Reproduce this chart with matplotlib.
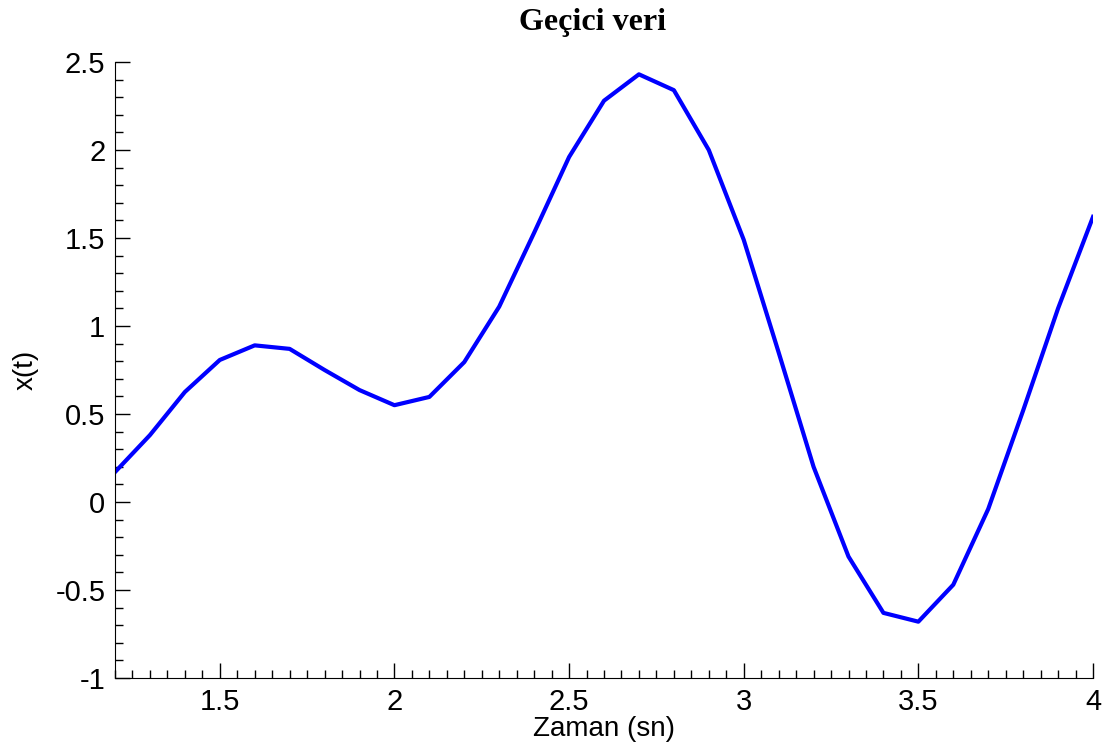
import numpy as np
import matplotlib.pyplot as plt
from matplotlib.ticker import MultipleLocator

# Time samples and response
zaman = [1.2, 1.3, 1.4, 1.5, 1.6, 1.7, 1.8, 1.9, 2.0, 2.1,
         2.2, 2.3, 2.4, 2.5, 2.6, 2.7, 2.8, 2.9, 3.0, 3.1,
         3.2, 3.3, 3.4, 3.5, 3.6, 3.7, 3.8, 3.9, 4.0]
xt = [0.17, 0.38, 0.625, 0.807, 0.89, 0.87, 0.75, 0.636, 0.55, 0.597,
      0.795, 1.11, 1.53, 1.96, 2.28, 2.43, 2.34, 2.0, 1.49, 0.85,
      0.2, -0.31, -0.63, -0.68, -0.47, -0.04, 0.52, 1.1, 1.62]

plt.rcParams['font.family'] = ['Liberation Sans', 'DejaVu Sans']

fig = plt.figure(figsize=(11.18, 7.45), dpi=100)
ax = fig.add_axes([115 / 1118, 1 - 678 / 745, (1093 - 115) / 1118, (678 - 62) / 745])

ax.plot(zaman, xt, color='#0000ff', linewidth=3)

ax.set_xlim(1.2, 4)
ax.set_ylim(-1, 2.5)
ax.xaxis.set_major_locator(MultipleLocator(0.5))
ax.xaxis.set_minor_locator(MultipleLocator(0.05))
ax.yaxis.set_major_locator(MultipleLocator(0.5))
ax.yaxis.set_minor_locator(MultipleLocator(0.1))
ax.xaxis.set_major_formatter(plt.FuncFormatter(lambda v, p: f'{v:g}'))
ax.yaxis.set_major_formatter(plt.FuncFormatter(lambda v, p: f'{v:g}'))

ax.spines['top'].set_visible(False)
ax.spines['right'].set_visible(False)
ax.tick_params(which='both', direction='in', labelsize=21, width=1)
ax.tick_params(which='major', length=11, pad=7)
ax.tick_params(which='minor', length=6)

ax.set_xlabel('Zaman (sn)', fontsize=20, labelpad=0)
ax.set_ylabel('x(t)', fontsize=20, labelpad=12)
ax.set_title('Geçici veri', fontsize=23, fontweight='bold',
             family=['Liberation Serif', 'DejaVu Serif'], pad=23, x=0.488)

fig.savefig('out.png', dpi=100)
